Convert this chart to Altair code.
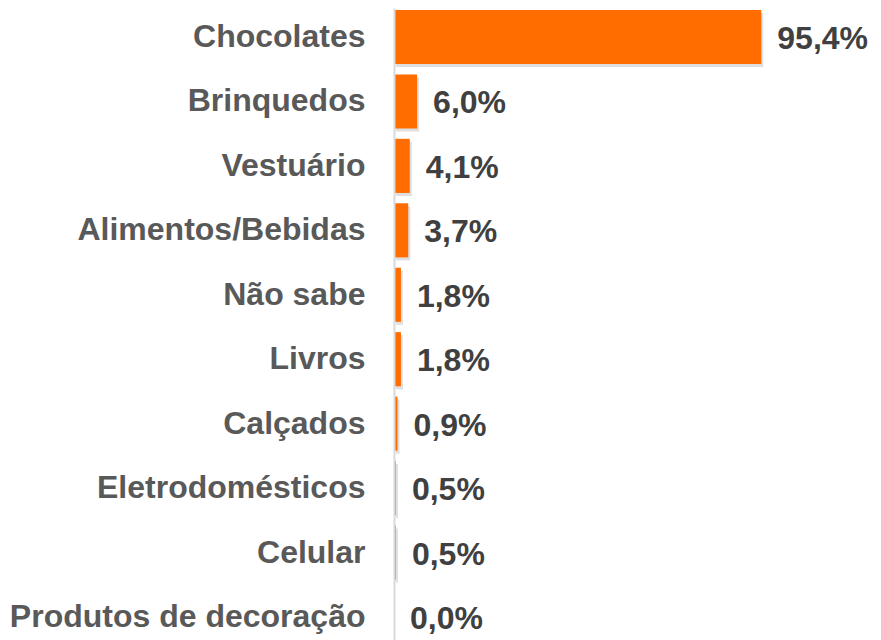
import altair as alt
import pandas as pd

categories = ["Chocolates", "Brinquedos", "Vestuário", "Alimentos/Bebidas", "Não sabe",
              "Livros", "Calçados", "Eletrodomésticos", "Celular", "Produtos de decoração"]
values = [95.4, 6.0, 4.1, 3.7, 1.8, 1.8, 0.9, 0.5, 0.5, 0.0]

df = pd.DataFrame({"cat": categories, "val": values})
df["lab"] = [f"{v:.1f}".replace(".", ",") + "%" for v in values]

FONT = "Liberation Sans"

y = alt.Y("cat:N", sort=categories, title=None,
          scale=alt.Scale(paddingInner=0.16, paddingOuter=0.03),
          axis=alt.Axis(labelFont=FONT, labelFontSize=32, labelFontWeight="bold",
                        labelColor="#595959", labelPadding=29, ticks=False,
                        domainColor="#D9D9D9", domainWidth=2, labelLimit=400, zindex=1))
x = alt.X("val:Q", title=None, scale=alt.Scale(domain=[0, 100]), axis=None)

base = alt.Chart(df).encode(y=y, x=x)

shadow = base.mark_bar(color="#808080", opacity=0.25, xOffset=2, yOffset=3)
bars = base.mark_bar(color="#FF6C00")
text = base.mark_text(align="left", baseline="middle", dx=16, dy=2, font=FONT,
                      fontSize=32, fontWeight="bold", color="#404040").encode(text="lab:N")

chart = (shadow + bars + text).properties(
    width=385, height=638,
    autosize=alt.AutoSizeParams(type="none"),
    padding={"left": 386, "top": 0, "right": 90, "bottom": 0},
).configure_view(stroke=None)

chart.save("out.html", embed_options={"renderer": "svg", "actions": False})
